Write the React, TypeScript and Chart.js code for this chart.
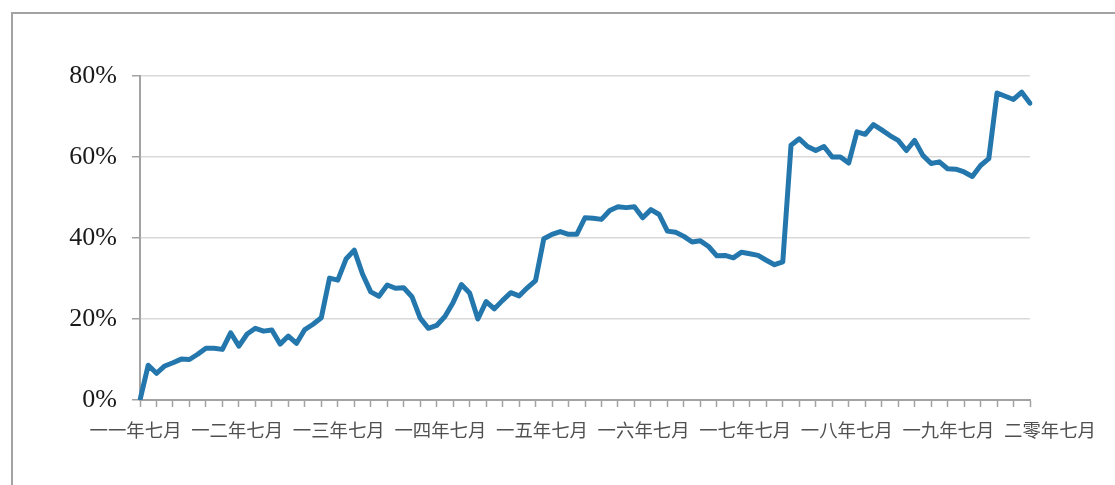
import React, { useEffect, useRef } from 'react';
import { Chart, registerables } from 'chart.js';

Chart.register(...registerables);

// Monthly categories: July 2011 – July 2020
const months: string[] = [];
for (let i = 0; i <= 108; i++) {
  const m = 6 + i;
  const y = 2011 + Math.floor(m / 12);
  months.push(`${y}-${String((m % 12) + 1).padStart(2, '0')}`);
}

const yearLabels = [
  '一一年七月', '一二年七月', '一三年七月', '一四年七月', '一五年七月',
  '一六年七月', '一七年七月', '一八年七月', '一九年七月', '二零年七月',
];

const rates = [
  0, 8.6, 6.6, 8.4, 9.2, 10.1, 10.0, 11.3, 12.8, 12.8,
  12.5, 16.6, 13.3, 16.3, 17.7, 17.0, 17.3, 13.8, 15.8, 14.0,
  17.4, 18.7, 20.3, 30.1, 29.6, 34.8, 37.0, 31.1, 26.7, 25.6,
  28.4, 27.6, 27.7, 25.5, 20.2, 17.7, 18.4, 20.6, 24.1, 28.5,
  26.4, 20.0, 24.3, 22.5, 24.6, 26.5, 25.7, 27.7, 29.5, 39.8,
  40.9, 41.6, 40.9, 40.9, 45.0, 44.9, 44.6, 46.8, 47.7, 47.5,
  47.7, 45.0, 47.0, 45.8, 41.7, 41.4, 40.4, 39.0, 39.3, 37.9,
  35.6, 35.7, 35.1, 36.5, 36.1, 35.7, 34.5, 33.4, 34.1, 62.9,
  64.5, 62.6, 61.6, 62.6, 60.0, 60.0, 58.5, 66.2, 65.6, 68.0,
  66.7, 65.3, 64.1, 61.6, 64.1, 60.4, 58.4, 58.8, 57.1, 57.0,
  56.3, 55.2, 57.9, 59.6, 75.8, 75.0, 74.2, 76.0, 73.3,
];

const yMin = 0;
const yMax = 80;
const yStep = 20;

export default function App() {
  const ref = useRef<HTMLCanvasElement | null>(null);

  useEffect(() => {
    document.body.style.margin = '0';
    const canvas = ref.current;
    if (!canvas) return;
    const axisGray = '#a3a3a3';
    const chart = new Chart(canvas, {
      type: 'line',
      data: {
        labels: months,
        datasets: [
          {
            data: rates,
            borderColor: '#2477ad',
            borderWidth: 5,
            pointRadius: 0,
            tension: 0,
            borderJoinStyle: 'round',
            borderCapStyle: 'round',
            fill: false,
          },
        ],
      },
      options: {
        animation: false,
        responsive: false,
        maintainAspectRatio: false,
        layout: { padding: { top: 76, right: 85, bottom: 0, left: 0 } },
        plugins: { legend: { display: false }, tooltip: { enabled: false } },
        scales: {
          x: {
            type: 'category',
            position: 'bottom',
            weight: 0,
            offset: false,
            grid: {
              drawOnChartArea: false,
              drawTicks: true,
              tickLength: 7,
              tickWidth: 1.5,
              color: 'rgba(0,0,0,0)',
              tickColor: (c: any) => (c.index % 2 === 0 ? axisGray : 'rgba(0,0,0,0)'),
            },
            border: { display: true, color: axisGray, width: 2 },
            ticks: { display: false, autoSkip: false },
            afterFit: (s: any) => { s.height = 8; },
          },
          xl: {
            type: 'linear',
            position: 'bottom',
            weight: 1,
            min: 0.0437,
            max: 8.803,
            grid: { display: false, drawTicks: false },
            border: { display: false },
            afterBuildTicks: (s: any) => {
              s.ticks = yearLabels.map((_, i) => ({ value: i }));
            },
            ticks: {
              autoSkip: false,
              maxRotation: 0,
              minRotation: 0,
              padding: 11,
              color: '#505050',
              font: { family: '"Noto Sans CJK SC", "Noto Sans CJK JP", sans-serif', size: 18.4 },
              callback: (_v: any, i: number) => yearLabels[i],
            },
            afterFit: (s: any) => { s.height = 77; },
          },
          y: {
            min: yMin,
            max: yMax,
            ticks: {
              stepSize: yStep,
              padding: 15,
              color: '#1a1a1a',
              font: { family: '"Liberation Serif", "Times New Roman", serif', size: 26 },
              callback: (v: any) => `${v}%`,
            },
            grid: {
              color: '#d9d9d9',
              lineWidth: 1.5,
              tickColor: axisGray,
              tickLength: 8,
              tickWidth: 1.5,
            },
            border: { color: axisGray, width: 2 },
            afterFit: (s: any) => { s.width = 140; },
          },
        },
      } as any,
    });
    return () => chart.destroy();
  }, []);

  return (
    <div style={{ position: 'relative', width: 1115, height: 485, overflow: 'hidden', background: '#fff' }}>
      <div
        style={{
          position: 'absolute',
          left: 11,
          top: 12,
          width: 1200,
          height: 600,
          border: '2px solid #a3a3a3',
          boxSizing: 'border-box',
        }}
      />
      <canvas ref={ref} width={1115} height={485} style={{ position: 'absolute', left: 0, top: 0, display: 'block' }} />
    </div>
  );
}
